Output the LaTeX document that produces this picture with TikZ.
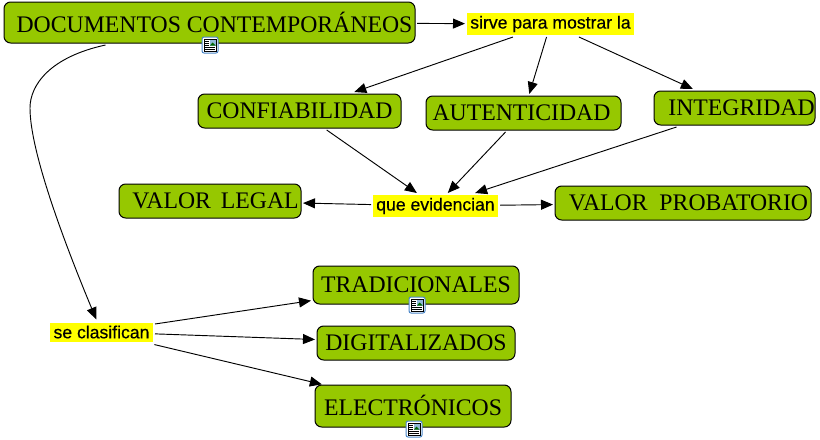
\documentclass[tikz,border=0pt]{standalone}
\usepackage{fontspec}
\setmainfont{Liberation Serif}
\setsansfont{Liberation Sans}[FakeBold=0.4]
\usetikzlibrary{arrows.meta, positioning}
\definecolor{conceptgreen}{HTML}{96C800}
\definecolor{linkyellow}{HTML}{FFFF00}
\definecolor{iconblue}{HTML}{4A86C8}
\definecolor{iconsky}{HTML}{8FB8D8}

\begin{document}
\begin{tikzpicture}[
    x=0.75pt, y=-0.75pt,
    concept/.style={
        rectangle,
        rounded corners=5pt,
        draw=black,
        fill=conceptgreen,
        line width=0.75pt,
        inner sep=0pt,
        outer sep=1.5pt,
        minimum height=25.5pt,
        font=\fontsize{17.8}{20}\selectfont
    },
    linking/.style={
        rectangle,
        fill=linkyellow,
        inner sep=0pt,
        outer sep=1.5pt,
        font=\sffamily\fontsize{13.2}{15}\selectfont
    },
    arrow/.style={line width=0.7pt, -{Triangle[length=9pt, width=7.5pt]}},
    docicon/.pic={
        \draw[iconblue, fill=white, line width=0.75pt, rounded corners=1.5pt] (-8,-8) rectangle (8,8);
        \draw[black, fill=white, line width=0.6pt] (-6,-6) rectangle (6,6);
        \fill[iconsky] (-0.5,-5.5) rectangle (5.5,0.5);
        \fill[black!60!green] (0,0.5) -- (2.5,-2.5) -- (5.5,0.5) -- cycle;
        \foreach \y in {-4,-2,0} \draw[black, line width=0.6pt] (-5,\y) -- (-1,\y);
        \foreach \y in {2,4} \draw[black, line width=0.6pt] (-5,\y) -- (5,\y);
    }
]
\useasboundingbox (0,0) rectangle (820,439);

\node[concept, minimum width=308.25pt, minimum height=30.75pt] (doc) at (209.5,22.5) {\kern7.5pt \raisebox{0.75pt}{DOCUMENTOS CONTEMPORÁNEOS}};

\node[concept, minimum width=152.25pt] (conf) at (299.5,111) {CONFIABILIDAD};
\node[concept, minimum width=146.25pt] (aut) at (523.5,113) {AUTENTICIDAD\kern3pt};
\node[concept, minimum width=120.75pt] (int) at (734.5,108) {\kern10.5pt INTEGRIDAD};
\node[concept, minimum width=136.5pt] (legal) at (210,201) {\kern8.25pt VALOR~\kern3pt LEGAL};
\node[concept, minimum width=192pt] (prob) at (683,203) {\kern8.25pt VALOR~\kern4.5pt PROBATORIO};
\node[concept, minimum width=154.5pt, minimum height=28.5pt] (trad) at (416,285) {TRADICIONALES};
\node[concept, minimum width=148.5pt] (dig) at (416,343) {DIGITALIZADOS};
\node[concept, minimum width=147pt, minimum height=31.5pt, outer sep=0.5pt] (elec) at (413,406) {\raisebox{0.75pt}{ELECTRÓNICOS}};

\node[linking, minimum width=125.25pt, minimum height=16.5pt] (sirve) at (550.5,24) {sirve para mostrar la};
\node[linking, minimum width=93.75pt, minimum height=16.5pt] (que) at (435.5,206) {que evidencian};
\node[linking, minimum width=77.25pt, minimum height=14.25pt, outer ysep=2.3pt] (se) at (101.5,332) {se clasifican};

\pic at (210,45) {docicon};
\pic at (417,305) {docicon};
\pic at (414,429) {docicon};

\draw[arrow] (doc) -- (sirve);
\draw[arrow] (sirve) -- (conf);
\draw[arrow] (sirve) -- (aut);
\draw[arrow] (sirve) -- (int);
\draw[arrow] (conf) -- (que);
\draw[arrow] (aut) -- (que);
\draw[arrow] (int) -- (que);
\draw[arrow] (que) -- (legal);
\draw[arrow] (que) -- (prob);
\draw[arrow] (se) -- (trad);
\draw[arrow] (se) -- (dig);
\draw[arrow] (se) -- (elec);

\coordinate (bend) at (30,108);
\draw[arrow] (doc) .. controls (50,57) and (30,85) .. (bend) .. controls (30,150) and (62,237) .. (se);

\end{tikzpicture}
\end{document}
